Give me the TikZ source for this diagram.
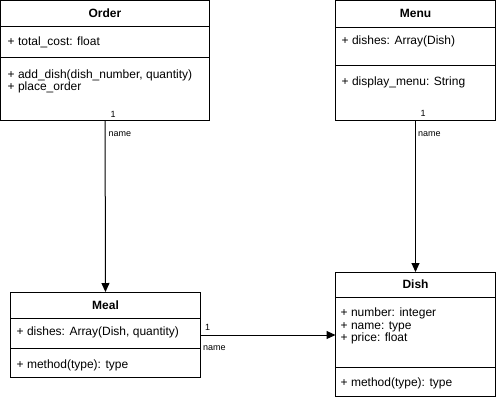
\documentclass[tikz,border=0pt]{standalone}
\usepackage{fontspec}
\setmainfont{Liberation Sans}
\usetikzlibrary{positioning}
\usetikzlibrary{calc}
\usetikzlibrary{arrows.meta}

\tikzset{
    box/.style={draw, line width=1pt, inner sep=0pt, outer sep=0pt},
    title/.style={font=\fontsize{12}{14}\selectfont\bfseries},
    member/.style={anchor=base west, inner sep=0pt, font=\fontsize{12}{13}\selectfont},
    mult/.style={anchor=base west, inner sep=0pt, font=\fontsize{9}{10}\selectfont},
    assoc/.style={-{Triangle[length=9pt,width=8pt]}, line width=1pt}
}

\begin{document}
\begin{tikzpicture}[x=1pt,y=-1pt]
    \useasboundingbox (0,0) rectangle (496,400);

    % Order
    \node[box, title, anchor=north west, minimum width=209pt, minimum height=25.5pt] (ordertitle) at (0.5,0.5) {Order};
    \node[box, minimum width=209pt, minimum height=31pt, below=0pt of ordertitle] (orderattr) {};
    \node[box, minimum width=209pt, minimum height=63pt, below=0pt of orderattr] (orderops) {};
    \node[member] at ($(orderattr.north west)+(7,19)$) {+ total\_cost: float};
    \node[member] at ($(orderops.north west)+(7,21)$) {+ add\_dish(dish\_number, quantity)};
    \node[member] at ($(orderops.north west)+(7,33.5)$) {+ place\_order};

    % Menu
    \node[box, title, anchor=north west, minimum width=160pt, minimum height=26.5pt] (menutitle) at (335.5,0.5) {Menu};
    \node[box, minimum width=160pt, minimum height=38pt, below=0pt of menutitle] (menuattr) {};
    \node[box, minimum width=160pt, minimum height=55pt, below=0pt of menuattr] (menuops) {};
    \node[member] at ($(menuattr.north west)+(6,17.5)$) {+ dishes: Array(Dish)};
    \node[member] at ($(menuops.north west)+(6,20)$) {+ display\_menu: String};

    % Meal
    \node[box, title, anchor=north west, minimum width=190pt, minimum height=26pt] (mealtitle) at (10.5,292) {Meal};
    \node[box, minimum width=190pt, minimum height=30pt, below=0pt of mealtitle] (mealattr) {};
    \node[box, minimum width=190pt, minimum height=29pt, below=0pt of mealattr] (mealops) {};
    \node[member] at ($(mealattr.north west)+(6,17)$) {+ dishes: Array(Dish, quantity)};
    \node[member] at ($(mealops.north west)+(6,20)$) {+ method(type): type};

    % Dish
    \node[box, title, anchor=north west, minimum width=160pt, minimum height=25pt] (dishtitle) at (335.5,272) {Dish};
    \node[box, minimum width=160pt, minimum height=70pt, below=0pt of dishtitle] (dishattr) {};
    \node[box, minimum width=160pt, minimum height=29pt, below=0pt of dishattr] (dishops) {};
    \node[member] at ($(dishattr.north west)+(5,19)$) {+ number: integer};
    \node[member] at ($(dishattr.north west)+(5,32)$) {+ name: type};
    \node[member] at ($(dishattr.north west)+(5,44.5)$) {+ price: float};
    \node[member] at ($(dishops.north west)+(5,19.5)$) {+ method(type): type};

    % Associations
    \draw[assoc] (orderops) -- node[mult, pos=0, xshift=5pt, yshift=3pt] {1}
        node[mult, pos=0, xshift=3pt, yshift=-16.5pt] {name} (mealtitle);
    \draw[assoc] (menuops) -- node[mult, pos=0, xshift=4.5pt, yshift=3.5pt] {1}
        node[mult, pos=0, xshift=2pt, yshift=-16pt] {name} (dishtitle);
    \draw[assoc] ([yshift=-2pt]mealattr.east) -- node[mult, pos=0, xshift=4pt, yshift=5pt] {1}
        node[mult, pos=0, xshift=2pt, yshift=-15.5pt] {name} ([yshift=-2pt]mealattr.east -| dishattr.west);
\end{tikzpicture}
\end{document}
